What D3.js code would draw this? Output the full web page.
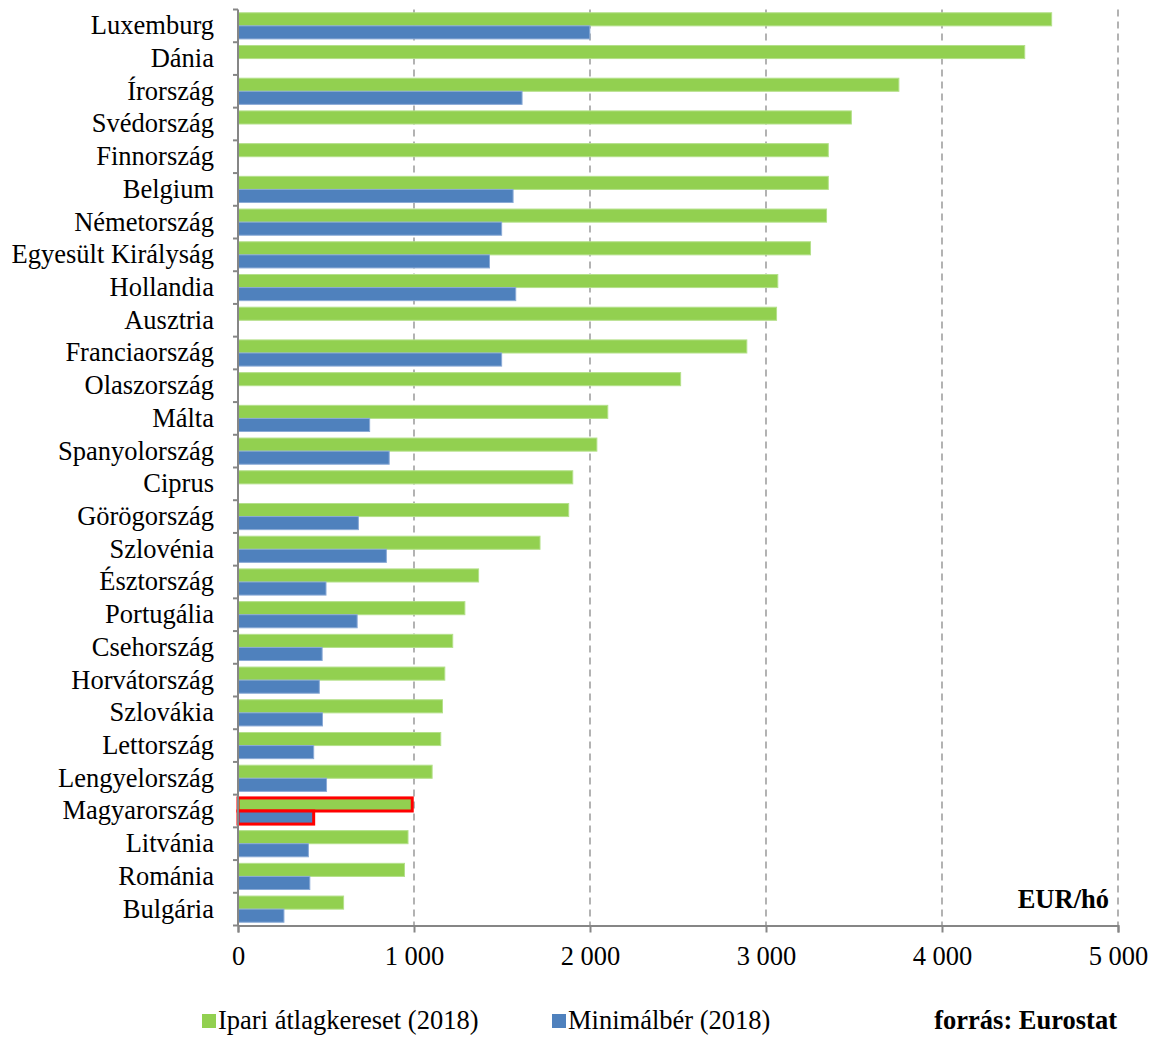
<!DOCTYPE html>
<html>
<head>
<meta charset="utf-8">
<script src="https://cdn.jsdelivr.net/npm/d3@7"></script>
<style>
  body { margin: 0; background: #fff; }
  text { font-family: "Liberation Serif", "Times New Roman", serif; fill: #000; }
</style>
</head>
<body>
<div id="container"></div>
<script>
// countries, top to bottom
var countries = [
  'Luxemburg', 'Dánia', 'Írország', 'Svédország', 'Finnország', 'Belgium',
  'Németország', 'Egyesült Királyság', 'Hollandia', 'Ausztria', 'Franciaország',
  'Olaszország', 'Málta', 'Spanyolország', 'Ciprus', 'Görögország', 'Szlovénia',
  'Észtország', 'Portugália', 'Csehország', 'Horvátország', 'Szlovákia',
  'Lettország', 'Lengyelország', 'Magyarország', 'Litvánia', 'Románia', 'Bulgária'
]

// Ipari átlagkereset (2018), EUR/hó
var avgWage = [
  4623, 4470, 3755, 3485, 3354, 3354, 3344, 3253, 3067, 3060, 2891,
  2515, 2101, 2039, 1902, 1879, 1716, 1367, 1289, 1220, 1175, 1162,
  1152, 1103, 990, 966, 946, 600
]

// Minimálbér (2018), null where there is no statutory minimum wage
var minWage = [
  1999, null, 1614, null, null, 1563, 1498, 1429, 1578, null, 1498,
  null, 748, 859, null, 684, 843, 500, 677, 478, 462, 480,
  430, 503, 430, 400, 408, 261
]

var seriesNames = ['Ipari átlagkereset (2018)', 'Minimálbér (2018)']
var seriesColours = ['#92D050', '#4F81BD']
var seriesStrokes = ['#B4E08A', '#8AAAD6']
var xTicks = [0, 1000, 2000, 3000, 4000, 5000]
var highlight = 'Magyarország'

var width = 1153
var height = 1037
var fontSize = '26.5px'

var svg = d3.select('#container').append('svg')
  .attr('width', width)
  .attr('height', height)

var x = d3.scaleLinear()
  .domain([0, 5000])
  .range([238, 1118])

var y = d3.scaleBand()
  .domain(countries)
  .range([9.5, 925.5])
  .padding(0)

var ySub = d3.scaleBand()
  .domain([0, 1])
  .range([0, y.bandwidth()])
  .paddingInner(0)
  .paddingOuter(0.25)

var fmt = function (v) { return d3.format(',')(v).replace(/,/g, ' ') }

/* grid lines */
svg.append('g')
  .selectAll('line')
  .data(xTicks.filter(function (d) { return d > 0 }))
  .enter().append('line')
  .attr('x1', function (d) { return x(d) })
  .attr('x2', function (d) { return x(d) })
  .attr('y1', 9.5)
  .attr('y2', 925.5)
  .style('stroke', '#A0A0A0')
  .style('stroke-width', 1.6)
  .style('stroke-dasharray', '7,5')

/* bars */
var rows = countries.map(function (c, i) {
  return { name: c, values: [avgWage[i], minWage[i]] }
})

var row = svg.append('g')
  .selectAll('g')
  .data(rows)
  .enter().append('g')
  .attr('transform', function (d) { return 'translate(0,' + y(d.name) + ')' })

row.selectAll('rect')
  .data(function (d) {
    return d.values.map(function (v, k) { return { name: d.name, value: v, k: k } })
      .filter(function (e) { return e.value != null })
  })
  .enter().append('rect')
  .attr('x', x(0))
  .attr('y', function (d) { return ySub(d.k) })
  .attr('width', function (d) { return x(d.value) - x(0) })
  .attr('height', ySub.bandwidth())
  .style('fill', function (d) { return seriesColours[d.k] })
  .style('stroke', function (d) { return d.name === highlight ? '#FF0000' : seriesStrokes[d.k] })
  .style('stroke-width', function (d) { return d.name === highlight ? 3 : 1 })

/* y axis */
svg.append('line')
  .attr('x1', x(0)).attr('x2', x(0))
  .attr('y1', 9.5).attr('y2', 925.5)
  .style('stroke', '#868686')
  .style('stroke-width', 2)

svg.append('g')
  .selectAll('line')
  .data(countries.concat(['__end']))
  .enter().append('line')
  .attr('x1', x(0) - 5)
  .attr('x2', x(0))
  .attr('y1', function (d, i) { return 9.5 + i * y.step() })
  .attr('y2', function (d, i) { return 9.5 + i * y.step() })
  .style('stroke', '#868686')
  .style('stroke-width', 2)

svg.append('g')
  .selectAll('text')
  .data(countries)
  .enter().append('text')
  .attr('x', 214)
  .attr('y', function (d) { return y(d) + y.bandwidth() / 2 })
  .attr('dy', '0.32em')
  .attr('text-anchor', 'end')
  .style('font-size', fontSize)
  .text(function (d) { return d })

/* x axis */
var xAxis = svg.append('g')
  .attr('transform', 'translate(0,925.5)')
  .call(d3.axisBottom(x).tickValues(xTicks).tickSize(7).tickFormat(fmt))

xAxis.select('.domain').style('stroke', '#868686').style('stroke-width', 2)
xAxis.selectAll('.tick line').style('stroke', '#868686').style('stroke-width', 2)
xAxis.selectAll('.tick text')
  .attr('y', 21)
  .style('font-size', fontSize)
  .style('font-family', '"Liberation Serif", "Times New Roman", serif')
  .style('fill', '#000')

/* unit label */
svg.append('text')
  .attr('x', 1109)
  .attr('y', 908)
  .attr('text-anchor', 'end')
  .style('font-size', fontSize)
  .style('font-weight', 'bold')
  .text('EUR/hó')

/* legend */
var legendX = [202, 552]
var legend = svg.append('g')
  .selectAll('g')
  .data(seriesNames)
  .enter().append('g')
  .attr('transform', function (d, i) { return 'translate(' + legendX[i] + ',1021)' })

legend.append('rect')
  .attr('x', 0).attr('y', -7)
  .attr('width', 14).attr('height', 14)
  .style('fill', function (d, i) { return seriesColours[i] })

legend.append('text')
  .attr('x', 16)
  .attr('dy', '0.32em')
  .style('font-size', fontSize)
  .text(function (d) { return d })

svg.append('text')
  .attr('x', 1117)
  .attr('y', 1029)
  .attr('text-anchor', 'end')
  .style('font-size', fontSize)
  .style('font-weight', 'bold')
  .text('forrás: Eurostat')
</script>
</body>
</html>
